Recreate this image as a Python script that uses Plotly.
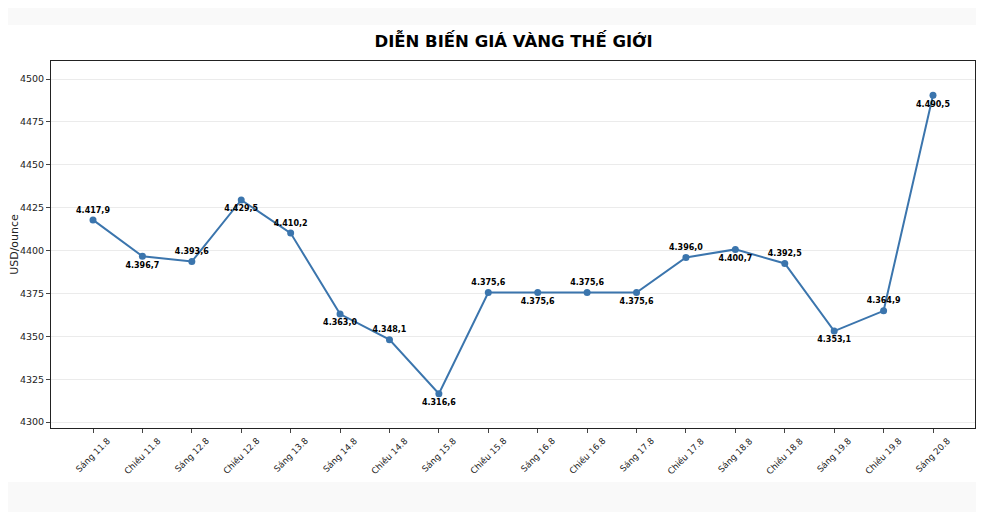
import plotly.graph_objects as go

# Diễn biến giá vàng thế giới (USD/ounce)
sessions = ["Sáng 11.8", "Chiều 11.8", "Sáng 12.8", "Chiều 12.8", "Sáng 13.8",
            "Sáng 14.8", "Chiều 14.8", "Sáng 15.8", "Chiều 15.8", "Sáng 16.8",
            "Chiều 16.8", "Sáng 17.8", "Chiều 17.8", "Sáng 18.8", "Chiều 18.8",
            "Sáng 19.8", "Chiều 19.8", "Sáng 20.8"]
prices = [4417.9, 4396.7, 4393.6, 4429.5, 4410.2,
          4363.0, 4348.1, 4316.6, 4375.6, 4375.6,
          4375.6, 4375.6, 4396.0, 4400.7, 4392.5,
          4353.1, 4364.9, 4490.5]
y_ticks = [4300, 4325, 4350, 4375, 4400, 4425, 4450, 4475, 4500]

x = list(range(len(sessions)))
labels = [f"{v:,.1f}".replace(",", "X").replace(".", ",").replace("X", ".") for v in prices]
positions = ["top center" if i % 2 == 0 else "bottom center" for i in x]

fig = go.Figure()
fig.add_trace(go.Scatter(
    x=x, y=prices, mode="lines+markers+text",
    line=dict(color="#3b75ad", width=2),
    marker=dict(color="#3b75ad", size=7),
    text=labels, textposition=positions,
    textfont=dict(family="DejaVu Sans", size=8, color="black", weight="bold"),
    showlegend=False,
))

# rotated category labels, centred under each tick (matplotlib style)
for i, s in zip(x, sessions):
    fig.add_annotation(x=i, y=0, xref="x", yref="paper", text=s, showarrow=False,
                       textangle=-45, xanchor="center", yanchor="top", yshift=-5,
                       font=dict(size=8.7, color="#222"))

# gray page strips above and below the chart image
for y0, y1 in [(1.098, 1.2), (-0.25, -0.147)]:
    fig.add_shape(type="rect", xref="paper", yref="paper", x0=-0.06, x1=1.02,
                  y0=y0, y1=y1, fillcolor="#f9f9f9", line_width=0, layer="below")

# page body has an 8px margin, so the figure is 8px smaller
fig.update_layout(
    width=976, height=504,
    margin=dict(l=43, r=9, t=53, b=84),
    paper_bgcolor="white", plot_bgcolor="white",
    font=dict(family="DejaVu Sans", color="#222"),
    title=dict(text="<b>DIỄN BIẾN GIÁ VÀNG THẾ GIỚI</b>", x=0.518, xanchor="center",
               y=0.934, yanchor="middle", font=dict(size=16.5, color="black")),
    xaxis=dict(range=[-0.85, 17.85], tickmode="array", tickvals=x, showticklabels=False,
               ticks="outside", ticklen=4, automargin=False,
               showgrid=False, showline=True, linecolor="#222", linewidth=1, mirror=True,
               zeroline=False),
    yaxis=dict(range=[4296.6, 4510.5], tickvals=y_ticks, tickfont=dict(size=9.5),
               ticks="outside", ticklen=4, showgrid=True, gridcolor="#ebebeb",
               showline=True, linecolor="#222", linewidth=1, mirror=True, zeroline=False,
               automargin=False,
               title=dict(text="USD/ounce", font=dict(size=11), standoff=2)),
)

fig.write_html("out.html")
